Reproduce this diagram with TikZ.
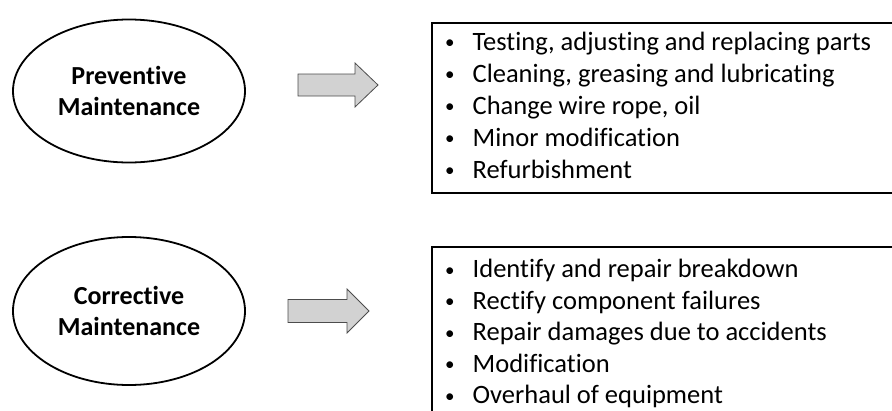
\documentclass[tikz,border=0pt]{standalone}
\usepackage{fontspec}
\setmainfont[Ligatures=CommonOff]{Carlito}
\usetikzlibrary{shapes.geometric}

\tikzset{
  kind/.style={ellipse, draw, line width=1.8pt, minimum width=232pt, inner sep=0pt,
    align=center, font=\fontsize{26}{31}\selectfont\bfseries},
  listbox/.style={draw, line width=1.8pt},
  item/.style={anchor=base west, inner sep=0pt, font=\fontsize{26.5}{30}\selectfont},
  blockarrow/.style={draw=gray!60!black, fill=gray!35, line width=0.8pt, line join=miter}
}
\newcommand{\dotmark}{{\fontsize{19}{20}\selectfont\raisebox{1.5pt}{\textbullet}}}

\begin{document}
\begin{tikzpicture}[x=1pt,y=-1pt]
  \clip (0,0) rectangle (892,410);
  % left side: the two kinds
  \node[kind, minimum height=143pt] (prev) at (129,91) {Preventive\\Maintenance};
  \node[kind, minimum height=148pt] (corr) at (129,311) {Corrective\\Maintenance};
  % block arrows
  \draw[blockarrow, shift={(298,85)}] (0,-11) -- (57,-11) -- (57,-22) -- (80,0)
    -- (57,22) -- (57,11) -- (0,11) -- cycle;
  \draw[blockarrow, shift={(288,311)}] (0,-11.5) -- (59,-11.5) -- (59,-22) -- (81,0)
    -- (59,22) -- (59,11.5) -- (0,11.5) -- cycle;
  % right side: the lists
  \draw[listbox] (432,23) rectangle (905,193);
  \draw[listbox] (432,247) rectangle (905,425);
  \foreach \t [count=\i] in {{Testing, adjusting and replacing parts},
      {Cleaning, greasing and lubricating}, {Change wire rope, oil},
      {Minor modification}, {Refurbishment}}
    \node[item] (p\i) at (445,18+32*\i) {\dotmark\hspace{18pt}\t};
  \foreach \t [count=\i] in {{Identify and repair breakdown},
      {Rectify component failures}, {Repair damages due to accidents},
      {Modification}, {Overhaul of equipment}}
    \node[item] (c\i) at (445,246+31.5*\i) {\dotmark\hspace{18pt}\t};
\end{tikzpicture}
\end{document}
